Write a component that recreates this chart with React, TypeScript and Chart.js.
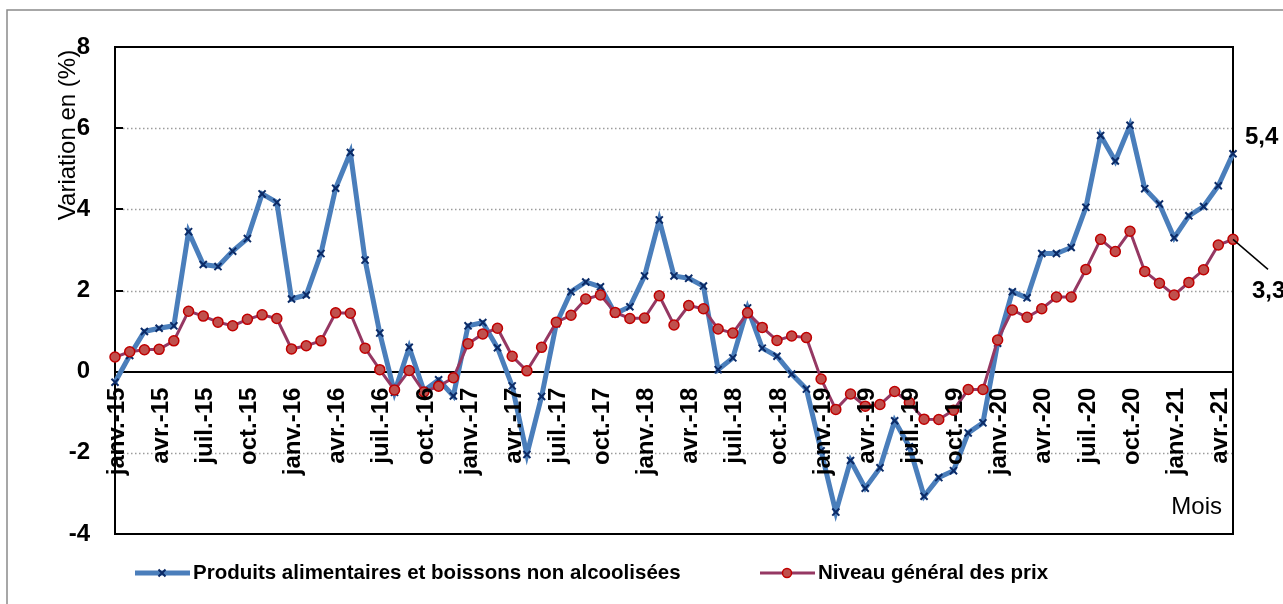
import React, { useEffect, useRef } from "react";
import { Chart, registerables } from "chart.js";

Chart.register(...registerables);

// ---- Data ----
const categories: string[] = [
  "janv.-15", "févr.-15", "mars-15", "avr.-15", "mai-15", "juin-15", "juil.-15", "août-15", "sept.-15", "oct.-15", "nov.-15", "déc.-15",
  "janv.-16", "févr.-16", "mars-16", "avr.-16", "mai-16", "juin-16", "juil.-16", "août-16", "sept.-16", "oct.-16", "nov.-16", "déc.-16",
  "janv.-17", "févr.-17", "mars-17", "avr.-17", "mai-17", "juin-17", "juil.-17", "août-17", "sept.-17", "oct.-17", "nov.-17", "déc.-17",
  "janv.-18", "févr.-18", "mars-18", "avr.-18", "mai-18", "juin-18", "juil.-18", "août-18", "sept.-18", "oct.-18", "nov.-18", "déc.-18",
  "janv.-19", "févr.-19", "mars-19", "avr.-19", "mai-19", "juin-19", "juil.-19", "août-19", "sept.-19", "oct.-19", "nov.-19", "déc.-19",
  "janv.-20", "févr.-20", "mars-20", "avr.-20", "mai-20", "juin-20", "juil.-20", "août-20", "sept.-20", "oct.-20", "nov.-20", "déc.-20",
  "janv.-21", "févr.-21", "mars-21", "avr.-21", "mai-21",
];

const foodSeries: number[] = [
  -0.26, 0.40, 0.99, 1.07, 1.13, 3.45, 2.64, 2.59, 2.97, 3.28, 4.38, 4.17,
  1.79, 1.89, 2.91, 4.52, 5.40, 2.75, 0.95, -0.51, 0.60, -0.47, -0.20, -0.60,
  1.13, 1.21, 0.59, -0.35, -2.04, -0.61, 1.18, 1.97, 2.21, 2.09, 1.43, 1.60,
  2.36, 3.74, 2.36, 2.30, 2.11, 0.05, 0.34, 1.57, 0.58, 0.38, -0.06, -0.43,
  -1.95, -3.46, -2.19, -2.87, -2.37, -1.21, -1.85, -3.07, -2.61, -2.44, -1.51, -1.26,
  0.70, 1.97, 1.82, 2.91, 2.91, 3.06, 4.05, 5.82, 5.19, 6.07, 4.51, 4.13,
  3.30, 3.84, 4.07, 4.58, 5.37,
];

const generalSeries: number[] = [
  0.36, 0.49, 0.54, 0.55, 0.76, 1.49, 1.37, 1.22, 1.13, 1.29, 1.40, 1.31,
  0.56, 0.64, 0.76, 1.45, 1.44, 0.58, 0.05, -0.45, 0.03, -0.50, -0.36, -0.15,
  0.69, 0.93, 1.07, 0.38, 0.02, 0.60, 1.22, 1.39, 1.79, 1.89, 1.46, 1.31,
  1.32, 1.87, 1.15, 1.63, 1.55, 1.05, 0.95, 1.45, 1.09, 0.77, 0.88, 0.84,
  -0.18, -0.93, -0.55, -0.85, -0.81, -0.49, -0.76, -1.17, -1.18, -0.95, -0.44, -0.44,
  0.78, 1.52, 1.34, 1.55, 1.84, 1.84, 2.52, 3.26, 2.96, 3.46, 2.47, 2.18,
  1.89, 2.20, 2.51, 3.12, 3.26,
];

const seriesNames: string[] = [
  "Produits alimentaires et boissons non alcoolisées",
  "Niveau général des prix",
];

const yTicks: number[] = [-4, -2, 0, 2, 4, 6, 8];
const xLabelEvery = 3;
const yTitle = "Variation en (%)";
const xTitle = "Mois";

// ---- Styles ----
const FONT = "'Liberation Sans', Arial, sans-serif";
const BLUE_LINE = "#4A7EBB";
const BLUE_MARK = "#0B2A66";
const RED_LINE = "#953863";
const RED_FILL = "#C0504D";
const RED_EDGE = "#C00000";

const fmt = (v: number) => v.toFixed(1).replace(".", ",");

const decorPlugin = {
  id: "decor",
  beforeDatasetsDraw(chart: any) {
    const { ctx, chartArea: a, scales } = chart;
    const y = scales.y;
    ctx.save();
    // dotted grid lines
    ctx.strokeStyle = "#9c9c9c";
    ctx.lineWidth = 1.5;
    ctx.setLineDash([1.5, 2.5]);
    for (const v of yTicks) {
      if (v === 0 || v === yTicks[0] || v === yTicks[yTicks.length - 1]) continue;
      const py = Math.round(y.getPixelForValue(v)) + 0.5;
      ctx.beginPath();
      ctx.moveTo(a.left + 8, py);
      ctx.lineTo(a.right, py);
      ctx.stroke();
    }
    ctx.setLineDash([]);
    // zero line
    ctx.strokeStyle = "#000";
    ctx.lineWidth = 2;
    const zy = Math.round(y.getPixelForValue(0));
    ctx.beginPath();
    ctx.moveTo(a.left, zy);
    ctx.lineTo(a.right, zy);
    ctx.stroke();
    // frame
    ctx.strokeRect(a.left, a.top, a.right - a.left, a.bottom - a.top);
    // inner tick marks
    for (const v of yTicks) {
      const py = Math.round(y.getPixelForValue(v));
      ctx.beginPath();
      ctx.moveTo(a.left, py);
      ctx.lineTo(a.left + 8, py);
      ctx.stroke();
    }
    ctx.restore();
  },
  afterDatasetsDraw(chart: any) {
    const { ctx, scales } = chart;
    const x = scales.x;
    const y = scales.y;
    const zy = y.getPixelForValue(0);
    ctx.save();
    ctx.fillStyle = "#000";
    ctx.font = `bold 24px ${FONT}`;
    ctx.textAlign = "right";
    ctx.textBaseline = "middle";
    categories.forEach((lab, i) => {
      if (i % xLabelEvery !== 0) return;
      const px = x.getPixelForValue(i);
      ctx.save();
      ctx.translate(px + 2, zy + 16);
      ctx.rotate(-Math.PI / 2);
      ctx.fillText(lab, 0, 0);
      ctx.restore();
    });
    ctx.restore();
  },
  afterDraw(chart: any) {
    const { ctx, chartArea: a, scales } = chart;
    const x = scales.x;
    const y = scales.y;
    ctx.save();
    // outer frame
    ctx.strokeStyle = "#8a8a8a";
    ctx.lineWidth = 1.5;
    ctx.strokeRect(7, 10, 1300, 620);

    // y title
    ctx.fillStyle = "#000";
    ctx.font = `24px ${FONT}`;
    ctx.textAlign = "center";
    ctx.textBaseline = "middle";
    ctx.save();
    ctx.translate(68, 135);
    ctx.rotate(-Math.PI / 2);
    ctx.fillText(yTitle, 0, 0);
    ctx.restore();

    // x title
    ctx.textAlign = "right";
    ctx.fillText(xTitle, a.right - 11, a.bottom - 27);

    // end-value labels
    const last = categories.length - 1;
    const lx = x.getPixelForValue(last);
    const by = y.getPixelForValue(foodSeries[last]);
    const ry = y.getPixelForValue(generalSeries[last]);
    ctx.font = `bold 24px ${FONT}`;
    ctx.textAlign = "left";
    ctx.fillText(fmt(foodSeries[last]), lx + 12, by - 16);
    ctx.strokeStyle = "#000";
    ctx.lineWidth = 1.5;
    ctx.beginPath();
    ctx.moveTo(lx, ry);
    ctx.lineTo(lx + 35, ry + 30);
    ctx.stroke();
    ctx.fillText(fmt(generalSeries[last]), lx + 19, ry + 52);

    // legend
    const ly = 573;
    ctx.font = `bold 20.5px ${FONT}`;
    ctx.textBaseline = "middle";
    // item 1
    ctx.strokeStyle = BLUE_LINE;
    ctx.lineWidth = 5;
    ctx.beginPath();
    ctx.moveTo(135, ly);
    ctx.lineTo(190, ly);
    ctx.stroke();
    ctx.strokeStyle = BLUE_MARK;
    ctx.lineWidth = 2;
    const c1 = 162, r1 = 3.5;
    ctx.beginPath();
    ctx.moveTo(c1 - r1, ly - r1);
    ctx.lineTo(c1 + r1, ly + r1);
    ctx.moveTo(c1 - r1, ly + r1);
    ctx.lineTo(c1 + r1, ly - r1);
    ctx.stroke();
    ctx.fillStyle = "#000";
    ctx.fillText(seriesNames[0], 193, ly);
    // item 2
    ctx.strokeStyle = RED_LINE;
    ctx.lineWidth = 3;
    ctx.beginPath();
    ctx.moveTo(760, ly);
    ctx.lineTo(815, ly);
    ctx.stroke();
    ctx.fillStyle = RED_FILL;
    ctx.strokeStyle = RED_EDGE;
    ctx.lineWidth = 1.5;
    ctx.beginPath();
    ctx.arc(787, ly, 4.5, 0, Math.PI * 2);
    ctx.fill();
    ctx.stroke();
    ctx.fillStyle = "#000";
    ctx.fillText(seriesNames[1], 818, ly);
    ctx.restore();
  },
};

export default function App() {
  const ref = useRef<HTMLCanvasElement | null>(null);

  useEffect(() => {
    if (!ref.current) return;
    const chart = new Chart(ref.current, {
      type: "line",
      data: {
        labels: categories,
        datasets: [
          {
            label: seriesNames[1],
            data: generalSeries,
            borderColor: RED_LINE,
            borderWidth: 3,
            pointStyle: "circle",
            pointRadius: 5,
            pointBackgroundColor: RED_FILL,
            pointBorderColor: RED_EDGE,
            pointBorderWidth: 1.5,
            tension: 0,
          },
          {
            label: seriesNames[0],
            data: foodSeries,
            borderColor: BLUE_LINE,
            borderWidth: 5,
            pointStyle: "crossRot",
            pointRadius: 5,
            pointBorderColor: BLUE_MARK,
            pointBorderWidth: 2,
            tension: 0,
          },
        ],
      },
      options: {
        responsive: false,
        animation: false,
        layout: { padding: { top: 47, bottom: 70, left: 0, right: 50 } },
        plugins: {
          legend: { display: false },
          tooltip: { enabled: false },
        },
        scales: {
          x: {
            type: "category",
            display: false,
            offset: false,
          },
          y: {
            min: yTicks[0],
            max: yTicks[yTicks.length - 1],
            afterFit: (scale: any) => {
              scale.width = 115;
            },
            afterBuildTicks: (scale: any) => {
              scale.ticks = yTicks.map((v) => ({ value: v }));
            },
            ticks: {
              color: "#000",
              padding: 25,
              font: { family: FONT, size: 24, weight: "bold" },
            },
            grid: { display: false, drawTicks: false },
            border: { display: false },
          },
        },
      },
      plugins: [decorPlugin],
    } as any);
    return () => chart.destroy();
  }, []);

  return (
    <div style={{ position: "fixed", left: 0, top: 0, width: 1283, height: 604, background: "#fff" }}>
      <canvas ref={ref} width={1283} height={604} style={{ display: "block" }} />
    </div>
  );
}
